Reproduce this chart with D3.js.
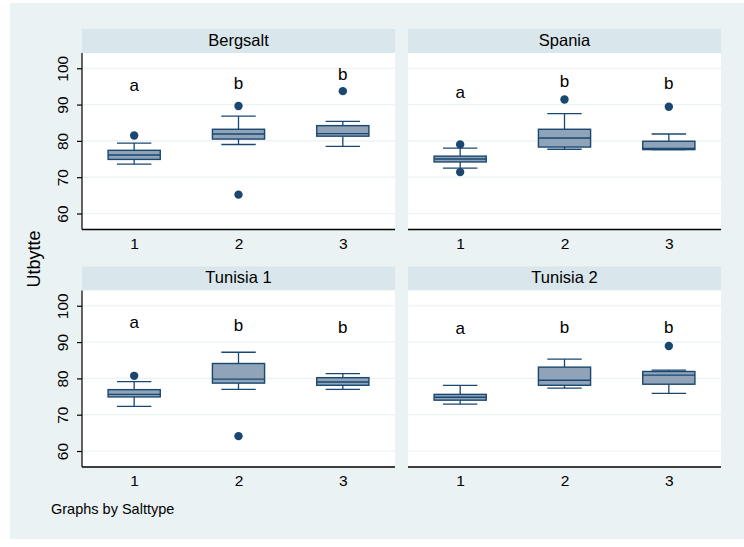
<!DOCTYPE html>
<html>
<head>
<meta charset="utf-8">
<script src="https://cdn.jsdelivr.net/npm/d3@7"></script>
<style>
  html, body { margin: 0; padding: 0; background: #ffffff; }
  svg { display: block; }
  text { font-family: "Liberation Sans", Arial, Helvetica, sans-serif; fill: #000; }
</style>
</head>
<body>
<svg id="chart" width="744" height="547"></svg>
<script>
// ---------- data ----------
const panels = ["Bergsalt", "Spania", "Tunisia 1", "Tunisia 2"];
const groups = [1, 2, 3];
const lowerWhisker = [[73.6, 79.0, 78.5], [72.5, 77.7, 77.6], [72.3, 77.0, 77.0], [72.9, 77.3, 75.9]];
const q1Values     = [[74.9, 80.5, 81.3], [74.2, 78.3, 77.6], [74.9, 78.7, 78.1], [74.0, 78.1, 78.4]];
const medianValues = [[76.1, 81.9, 82.0], [75.0, 80.8, 77.9], [75.6, 79.8, 79.0], [74.8, 79.5, 80.9]];
const q3Values     = [[77.4, 83.2, 84.2], [75.8, 83.2, 79.9], [76.9, 84.1, 80.2], [75.6, 83.1, 81.9]];
const upperWhisker = [[79.4, 86.8, 85.4], [78.0, 87.5, 81.9], [79.1, 87.2, 81.3], [78.1, 85.3, 82.3]];
const outliers = [
  [[81.5], [89.6, 65.2], [93.7]],
  [[79.0, 71.4], [91.4], [89.4]],
  [[80.7], [64.1], []],
  [[], [], [88.9]]
];
const letters = [["a", "b", "b"], ["a", "b", "b"], ["a", "b", "b"], ["a", "b", "b"]];
const letterY = [[93.8, 94.3, 96.8], [91.9, 94.8, 94.4], [93.8, 93.1, 92.6], [92.3, 92.5, 92.6]];
const yTicks = [60, 70, 80, 90, 100];
const yDomain = [55.6, 104.2];
const xDomain = [0.5, 3.5];
const yTitle = "Utbytte";
const noteText = "Graphs by Salttype";

// ---------- style ----------
const C = {
  outer: "#eaf2f3",
  strip: "#d9e6eb",
  grid: "#eaf2f3",
  boxFill: "#8fa4b8",
  line: "#1a476f"
};

const svg = d3.select("#chart");
svg.append("rect").attr("x", 10).attr("y", 3).attr("width", 734).attr("height", 536).attr("fill", C.outer);

const colX = [82, 408];
const panelW = 313;
const rowTop = [29, 266.5];
const stripH = 24;
const plotH = 176.5;

panels.forEach((name, p) => {
  const col = p % 2, row = Math.floor(p / 2);
  const x0 = colX[col], top = rowTop[row];
  const py0 = top + stripH;
  const g = svg.append("g");

  // strip
  g.append("rect").attr("x", x0).attr("y", top).attr("width", panelW).attr("height", stripH).attr("fill", C.strip);
  g.append("text").attr("x", x0 + panelW / 2).attr("y", top + 16.5)
    .attr("text-anchor", "middle").attr("font-size", 16.5).text(name);

  // plot region
  g.append("rect").attr("x", x0).attr("y", py0).attr("width", panelW).attr("height", plotH).attr("fill", "#fff");

  const x = d3.scaleLinear().domain(xDomain).range([x0, x0 + panelW]);
  const y = d3.scaleLinear().domain(yDomain).range([py0 + plotH, py0]);

  // gridlines
  g.selectAll(".grid").data(yTicks).join("line")
    .attr("x1", x0).attr("x2", x0 + panelW)
    .attr("y1", d => y(d)).attr("y2", d => y(d))
    .attr("stroke", C.grid).attr("stroke-width", 1.2);

  // y axis for left column
  if (col === 0) {
    const ya = g.append("g").attr("transform", `translate(${x0},0)`)
      .call(d3.axisLeft(y).tickValues(yTicks).tickSize(5).tickPadding(3));
    ya.select(".domain").attr("stroke", "#000").attr("stroke-width", 1.2)
      .attr("d", `M0,${py0 + plotH}V${py0}`);
    ya.selectAll(".tick line").attr("stroke", "#000").attr("stroke-width", 1.2);
    ya.selectAll(".tick text").remove();
    ya.selectAll(".tick").append("text")
      .attr("transform", "translate(-14,0) rotate(-90)")
      .attr("text-anchor", "middle").attr("font-size", 15.5).attr("fill", "#000")
      .text(d => d);
  }

  // x axis
  const xa = g.append("g").attr("transform", `translate(0,${py0 + plotH})`)
    .call(d3.axisBottom(x).tickValues(groups).tickSize(0).tickPadding(8).tickFormat(d3.format("d")));
  xa.select(".domain").attr("stroke", "#000").attr("stroke-width", 1.4)
    .attr("d", `M${x0},0H${x0 + panelW}`);
  xa.selectAll(".tick text").attr("font-size", 15.5).attr("fill", "#000")
    .attr("font-family", "Liberation Sans, Arial, sans-serif");

  const boxW = 0.5, capW = 0.33;
  groups.forEach((gr, i) => {
    const cx = x(gr);
    const lw = lowerWhisker[p][i], q1 = q1Values[p][i], md = medianValues[p][i],
          q3 = q3Values[p][i], uw = upperWhisker[p][i];
    const half = (x(gr + boxW / 2) - x(gr - boxW / 2)) / 2;
    const capHalf = (x(gr + capW / 2) - x(gr - capW / 2)) / 2;
    // whiskers
    g.append("line").attr("x1", cx).attr("x2", cx).attr("y1", y(q3)).attr("y2", y(uw))
      .attr("stroke", C.line).attr("stroke-width", 1.3);
    g.append("line").attr("x1", cx).attr("x2", cx).attr("y1", y(q1)).attr("y2", y(lw))
      .attr("stroke", C.line).attr("stroke-width", 1.3);
    g.append("line").attr("x1", cx - capHalf).attr("x2", cx + capHalf).attr("y1", y(uw)).attr("y2", y(uw))
      .attr("stroke", C.line).attr("stroke-width", 1.3);
    g.append("line").attr("x1", cx - capHalf).attr("x2", cx + capHalf).attr("y1", y(lw)).attr("y2", y(lw))
      .attr("stroke", C.line).attr("stroke-width", 1.3);
    // box
    g.append("rect").attr("x", cx - half).attr("y", y(q3)).attr("width", half * 2).attr("height", y(q1) - y(q3))
      .attr("fill", C.boxFill).attr("stroke", C.line).attr("stroke-width", 1.4);
    g.append("line").attr("x1", cx - half).attr("x2", cx + half).attr("y1", y(md)).attr("y2", y(md))
      .attr("stroke", C.line).attr("stroke-width", 1.4);
    // outliers
    g.selectAll(null).data(outliers[p][i]).join("circle")
      .attr("cx", cx).attr("cy", d => y(d)).attr("r", 4.2).attr("fill", C.line);
    // letters
    g.append("text").attr("x", cx).attr("y", y(letterY[p][i]))
      .attr("text-anchor", "middle").attr("font-size", 17).text(letters[p][i]);
  });
});

// y title
svg.append("text").attr("transform", "translate(40,259) rotate(-90)")
  .attr("text-anchor", "middle").attr("font-size", 18).text(yTitle);

// note
svg.append("text").attr("x", 51).attr("y", 514).attr("font-size", 14.5).text(noteText);
</script>
</body>
</html>
